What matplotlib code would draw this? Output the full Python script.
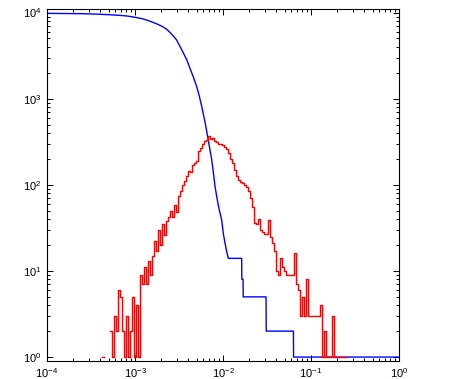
import numpy as np
import matplotlib
matplotlib.use("Agg")
import matplotlib.pyplot as plt

plt.rcParams['font.family'] = ['Liberation Sans', 'DejaVu Sans']
plt.rcParams['mathtext.fontset'] = 'custom'
plt.rcParams['mathtext.rm'] = 'Liberation Sans'
plt.rcParams['mathtext.it'] = 'Liberation Sans:italic'

# blue: count of samples above x (log10 x, count)
blue_logx = [-4.0, -3.8, -3.6, -3.51, -3.4, -3.3, -3.21, -3.1, -3.02, -2.92,
             -2.83, -2.74, -2.69, -2.64, -2.6, -2.565, -2.53, -2.489, -2.451, -2.41,
             -2.375, -2.337, -2.30, -2.27, -2.242, -2.205, -2.178, -2.155, -2.128, -2.11,
             -2.091, -2.065, -2.042, -2.015, -1.996, -1.977, -1.958, -1.94, -1.788, -1.786,
             -1.772, -1.77, -1.511, -1.509, -1.2, -1.198, 0.0]
blue_count = [9800, 9750, 9700, 9650, 9550, 9450, 9330, 9150, 8890, 8500,
              7940, 7300, 6900, 6400, 5850, 5350, 4850, 4050, 3400, 2800,
              2250, 1780, 1390, 1080, 813, 540, 380, 279, 195, 140,
              96, 67, 51, 39, 27, 21, 16.8, 14, 14, 8,
              8, 5, 5, 2, 2, 1, 1]

# red: histogram counts in log-spaced bins (0 = empty bin)
red_first_bin = -3.386   # log10 of first bin centre
red_bin_width = 0.02273  # in decades
red_count = [0, 1, 0, 0, 0, 2, 1, 3, 2, 6,
             5, 2, 1, 3, 1, 2, 5, 1, 4, 1,
             9, 7, 11, 7, 13, 9, 15, 22, 17, 30,
             20, 35, 26, 38, 42, 50, 42, 58, 48, 75,
             85, 100, 110, 125, 145, 140, 170, 180, 190, 245,
             270, 300, 320, 330, 370, 340, 350, 320, 315, 300,
             300, 290, 275, 260, 235, 200, 180, 150, 125, 115,
             108, 105, 100, 95, 85, 70, 55, 36, 35, 40,
             30, 28, 27, 27, 39, 25, 21, 17, 10, 9,
             14, 11, 10, 9, 9, 9, 9, 16, 7, 6,
             3, 5, 3, 8, 3, 3, 3, 3, 3, 3,
             4, 1, 2, 1, 1, 1, 3, 1, 1, 1,
             1, 1, 1, 1]


def main():
    fig = plt.figure(figsize=(4.52, 3.79), dpi=100)
    ax = fig.add_axes([47 / 452, 18 / 379, 352 / 452, 352 / 379])

    bx = 10 ** np.array(blue_logx)
    ax.plot(bx, blue_count, color='#0000ff', lw=1.0)

    rx = 10 ** (red_first_bin + red_bin_width * np.arange(len(red_count)))
    ry = np.array(red_count, dtype=float)
    ry[ry <= 0] = np.nan
    ax.plot(rx, ry, color='#ff0000', lw=1.0, drawstyle='steps-mid')

    ax.set_xscale('log')
    ax.set_yscale('log')
    ax.set_xlim(1e-4, 1e0)
    ax.set_ylim(0.9, 1.1e4)

    ax.tick_params(which='both', direction='in', top=True, right=True,
                   labelsize=8, width=0.7, pad=4)
    ax.tick_params(which='major', length=4)
    ax.tick_params(which='minor', length=2.2)
    for s in ax.spines.values():
        s.set_linewidth(0.8)

    fig.savefig('out.png', dpi=100)


if __name__ == "__main__":
    main()
